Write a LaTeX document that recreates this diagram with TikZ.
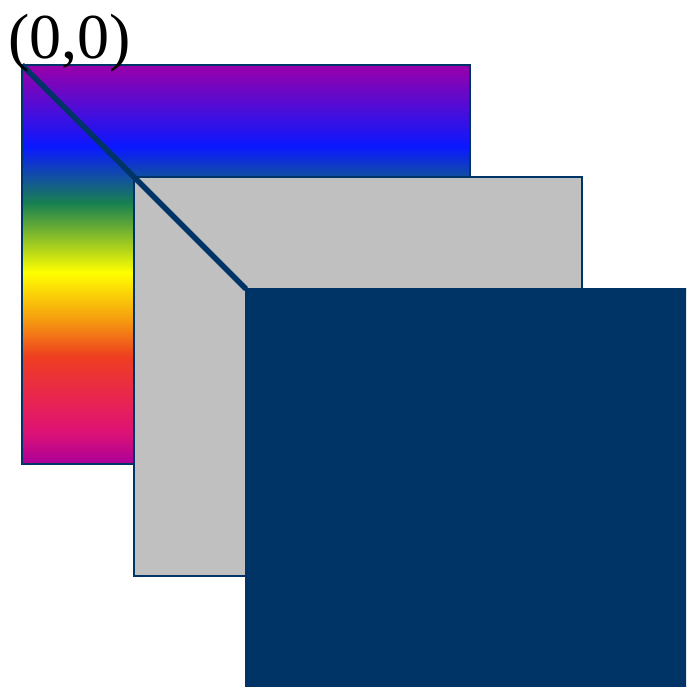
\documentclass[tikz,border=0pt]{standalone}
\usepackage{fontspec}
\setmainfont{Liberation Serif}
\definecolor{navy}{HTML}{003366}
\definecolor{rgA}{HTML}{9A00AA}
\definecolor{rgB}{HTML}{0A18FF}
\definecolor{rgC}{HTML}{188050}
\definecolor{rgD}{HTML}{FFFF00}
\definecolor{rgE}{HTML}{F59A10}
\definecolor{rgF}{HTML}{EE3E20}
\definecolor{rgG}{HTML}{E82452}
\definecolor{rgH}{HTML}{DD1275}
\definecolor{rgI}{HTML}{AA0099}
\definecolor{panelgrey}{RGB}{192,192,192}
\pgfdeclareverticalshading{rainbowshade}{100bp}{%
  color(0bp)=(rgI); color(25bp)=(rgI); color(29bp)=(rgH); color(33bp)=(rgG);
  color(38.5bp)=(rgF); color(43bp)=(rgE); color(49bp)=(rgD); color(57.7bp)=(rgC);
  color(64.75bp)=(rgB); color(75bp)=(rgA); color(100bp)=(rgA)}
\tikzset{
  panel/.style={anchor=north west, minimum width=448pt, minimum height=399pt,
    inner sep=0pt, outer sep=0pt, draw=navy, line width=1.5pt},
  label0/.style={anchor=base west, inner sep=0pt, font=\fontsize{64}{64}\selectfont}
}
\begin{document}
\begin{tikzpicture}[x=1pt,y=-1pt]
\useasboundingbox (0,0) rectangle (686,687);
\clip (0,0) rectangle (686,687);
\node[panel, shading=rainbowshade] (rain) at (22,65) {};
\node[panel, fill=panelgrey] (grey) at (134,177) {};
\node[panel, fill=navy] (dark) at (246,289) {};
\draw[navy, line width=5.5pt] (rain.north west) -- (dark.north west);
\node[label0] (origin) at (8,59) {(0,0)};
\end{tikzpicture}
\end{document}
